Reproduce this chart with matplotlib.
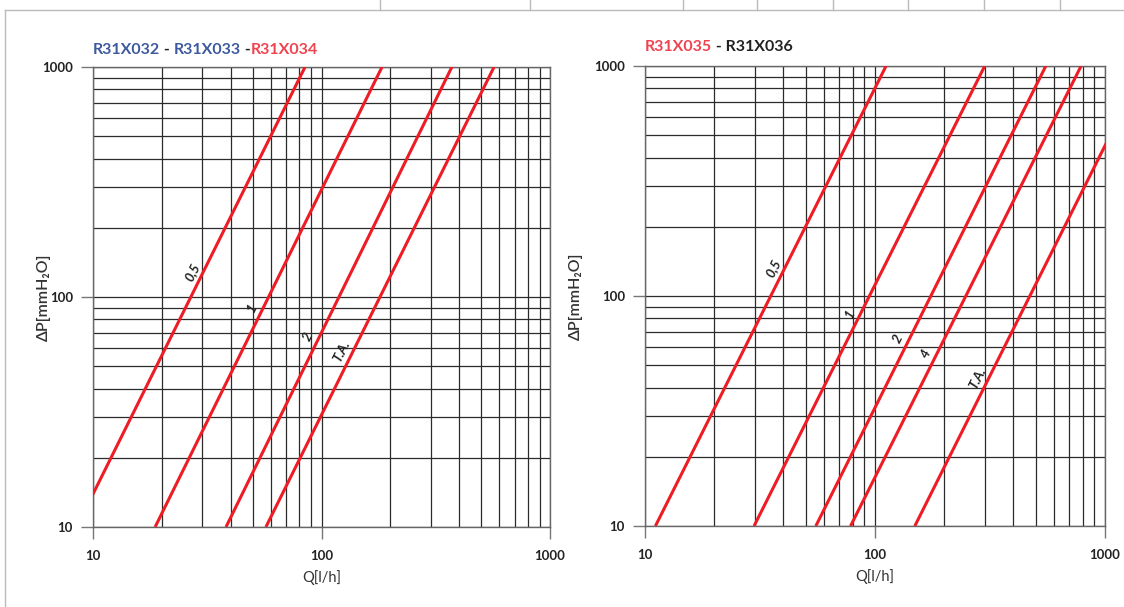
import matplotlib
matplotlib.use("Agg")
import matplotlib.pyplot as plt
import numpy as np
from matplotlib.lines import Line2D

plt.rcParams['font.family'] = ['Lato', 'DejaVu Sans']

# flow (l/h) of each curve at dP = 10 and dP = 1000 mmH2O
left_names = ['0,5', '1', '2', 'T.A.']
left_q_lo = [8.48, 18.7, 38.2, 57.1]
left_q_hi = [84.7, 184.0, 372.0, 569.0]

right_names = ['0,5', '1', '2', '4', 'T.A.']
right_q_lo = [11.1, 29.8, 55.3, 78.3, 149.0]
right_q_hi = [111.7, 300.0, 553.0, 787.0, 1490.0]

dp_ends = [10, 1000]

left_title = [('R31X032', '#3d5a9e'), (' - ', '#222222'), ('R31X033', '#3d5a9e'),
              (' -', '#222222'), ('R31X034', '#f0434f')]
right_title = [('R31X035', '#f0434f'), (' - R31X036', '#222222')]

# dP where each curve's label sits
left_label_dp = [128, 90, 67, 58]
right_label_dp = [132, 84, 65, 56, 44]

RED = '#ee1c25'
GRID = '#2b2b2b'


def draw_panel(ax, names, q_lo, q_hi, label_dp, title, title_y, ylabel_x):
    ax.set_xscale('log')
    ax.set_yscale('log')
    ax.set_xlim(10, 1000)
    ax.set_ylim(10, 1000)

    for name, a, b, dp in zip(names, q_lo, q_hi, label_dp):
        ax.plot([a, b], dp_ends, color=RED, lw=2.2, solid_capstyle='butt', zorder=3)
        q = 10 ** np.interp(np.log10(dp), np.log10(dp_ends), [np.log10(a), np.log10(b)])
        ax.annotate(name, xy=(q, dp), xytext=(-8, 0), textcoords='offset points',
                    rotation=63, ha='center', va='center', fontsize=9.5,
                    style='italic', fontweight='bold', color='#222222', zorder=4)

    ax.set_xticks([10, 100, 1000])
    ax.set_xticklabels(['10', '100', '1000'])
    ax.set_yticks([10, 100, 1000])
    ax.set_yticklabels(['10', '100', '1000'])
    ax.grid(True, which='both', color=GRID, lw=0.9)
    ax.tick_params(which='major', length=8.5, width=1, color='#777777',
                   labelsize=9.5, labelcolor='#222222')
    ax.tick_params(axis='y', pad=6)
    ax.tick_params(axis='x', pad=8)
    ax.tick_params(which='minor', length=0)
    for t in ax.get_xticklabels() + ax.get_yticklabels():
        t.set_fontweight('bold')
    for s in ax.spines.values():
        s.set_color('#666666')
        s.set_linewidth(1)

    ax.set_xlabel('Q[l/h]', fontsize=10.5, color='#333333')
    ax.xaxis.set_label_coords(0.5, -0.109)
    ax.xaxis.label.set_va('center')
    ax.set_ylabel('ΔP[mmH₂O]', fontsize=11.5, color='#333333', fontweight='semibold')
    ax.yaxis.set_label_coords(ylabel_x, 0.5)
    ax.yaxis.label.set_va('center')

    # multi-coloured title
    prev = ax.text(0, title_y, title[0][0], transform=ax.transAxes, fontsize=11.5,
                   fontweight='bold', color=title[0][1], va='center')
    for s, c in title[1:]:
        prev = ax.annotate(s, xy=(1, 0.5), xycoords=prev, va='center', fontsize=11.5,
                           fontweight='bold', color=c)


fig = plt.figure(figsize=(11.24, 6.07), dpi=100)
ax1 = fig.add_axes([93 / 1124, 1 - 527 / 607, 457 / 1124, 460 / 607])
ax2 = fig.add_axes([645 / 1124, 1 - 526 / 607, 460 / 1124, 460 / 607])

draw_panel(ax1, left_names, left_q_lo, left_q_hi, left_label_dp, left_title,
           1.037, -0.108)
draw_panel(ax2, right_names, right_q_lo, right_q_hi, right_label_dp, right_title,
           1.041, -0.15)

# page frame fragments
W, H = 1124, 607
fig.add_artist(Line2D([5 / W, 1], [1 - 10 / H, 1 - 10 / H], color='#bbbbbb', lw=1))
fig.add_artist(Line2D([5 / W, 5 / W], [0, 1 - 10 / H], color='#bbbbbb', lw=1))
for x in [380, 530, 683, 757, 833, 908, 984, 1060]:
    fig.add_artist(Line2D([x / W, x / W], [1 - 10 / H, 1], color='#bbbbbb', lw=1))

fig.savefig('out.png', dpi=100)
